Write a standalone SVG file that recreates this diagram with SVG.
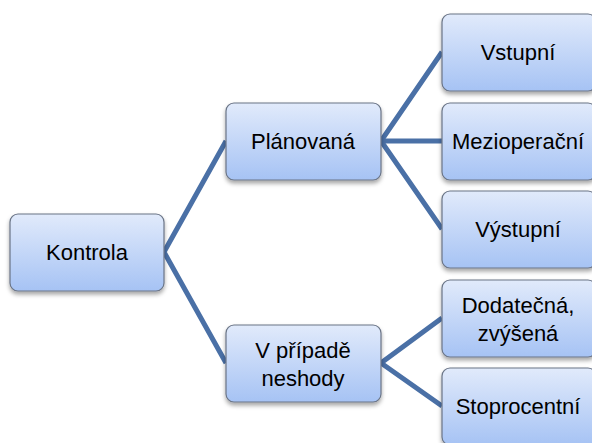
<svg xmlns="http://www.w3.org/2000/svg" width="592" height="443" viewBox="0 0 592 443">
  <defs>
    <linearGradient id="boxFill" x1="0" y1="0" x2="0" y2="1">
      <stop offset="0" stop-color="#e1eafb"/>
      <stop offset="1" stop-color="#a6c3f4"/>
    </linearGradient>
    <filter id="shadow" x="-10%" y="-10%" width="120%" height="130%">
      <feDropShadow dx="0" dy="3" stdDeviation="2" flood-color="#000" flood-opacity="0.35"/>
    </filter>
  </defs>
  <style>
    .box { fill: url(#boxFill); stroke: #6a7486; stroke-width: 1.2; filter: url(#shadow); }
    .lbl { font-family: "Liberation Sans", Arial, sans-serif; font-size: 22px; fill: #000; text-anchor: middle; }
    .edge { stroke: #4a70a6; stroke-width: 5; fill: none; stroke-linecap: butt; stroke-linejoin: miter; }
  </style>
  <rect width="592" height="443" fill="#fff"/>

  <g id="connectors">
    <path class="edge" d="M226,141 L164,252 L226,363"/>
    <path class="edge" d="M442,52 L381,141 L442,229"/>
    <path class="edge" d="M381,141 L442,141"/>
    <path class="edge" d="M442,318 L381,363 L442,406"/>
  </g>

  <g id="kontrola">
    <rect class="box" x="10" y="214" width="154" height="77" rx="8"/>
    <text class="lbl" x="87" y="260">Kontrola</text>
  </g>
  <g id="planovana">
    <rect class="box" x="226" y="103" width="155" height="77" rx="8"/>
    <text class="lbl" x="303" y="149">Plánovaná</text>
  </g>
  <g id="v-pripade-neshody">
    <rect class="box" x="226" y="325" width="155" height="77" rx="8"/>
    <text class="lbl" x="303" y="358">V případě</text>
    <text class="lbl" x="303" y="386">neshody</text>
  </g>
  <g id="vstupni">
    <rect class="box" x="442" y="14" width="154" height="77" rx="8"/>
    <text class="lbl" x="518" y="60">Vstupní</text>
  </g>
  <g id="mezioperacni">
    <rect class="box" x="442" y="103" width="154" height="77" rx="8"/>
    <text class="lbl" x="518" y="149">Mezioperační</text>
  </g>
  <g id="vystupni">
    <rect class="box" x="442" y="191" width="154" height="77" rx="8"/>
    <text class="lbl" x="518" y="237">Výstupní</text>
  </g>
  <g id="dodatecna">
    <rect class="box" x="442" y="280" width="154" height="77" rx="8"/>
    <text class="lbl" x="518" y="313">Dodatečná,</text>
    <text class="lbl" x="518" y="341">zvýšená</text>
  </g>
  <g id="stoprocentni">
    <rect class="box" x="442" y="368" width="154" height="77" rx="8"/>
    <text class="lbl" x="518" y="414">Stoprocentní</text>
  </g>
</svg>
